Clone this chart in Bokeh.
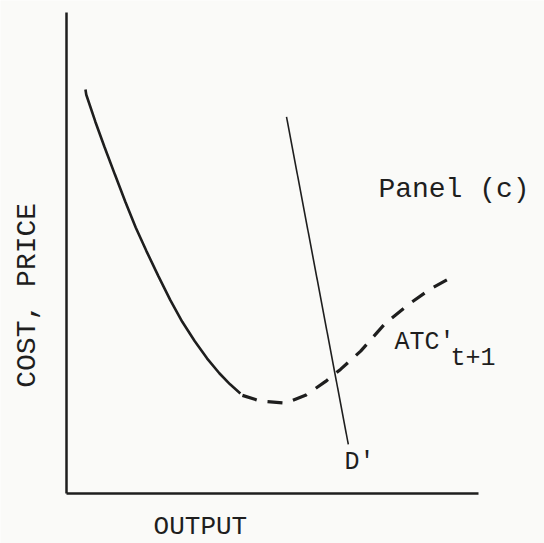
from bokeh.plotting import figure
from bokeh.models import Range1d, Label, FixedTicker
from bokeh.embed import file_html
from bokeh.resources import INLINE
import math

# --- data (economic units; both axes span 0..10) ---
atc_solid_x = [0.46, 0.48, 0.70, 0.92, 1.18, 1.43, 1.68, 1.94, 2.23, 2.52, 2.81, 3.11, 3.41, 3.71, 3.97, 4.22]
atc_solid_y = [8.40, 8.29, 7.73, 7.21, 6.62, 6.06, 5.53, 5.04, 4.52, 4.02, 3.57, 3.17, 2.81, 2.50, 2.27, 2.08]

atc_dash_x = [4.27, 4.71, 5.32, 5.80, 6.29, 6.65, 7.14, 7.74, 8.35, 8.83, 9.27]
atc_dash_y = [2.04, 1.92, 1.88, 2.04, 2.33, 2.58, 2.96, 3.54, 3.96, 4.25, 4.46]

demand_x = [5.34, 6.84]
demand_y = [7.83, 1.02]

panel_title = "Panel (c)"
y_label = "COST, PRICE"
x_label = "OUTPUT"

INK = "#1e1e1e"
PAPER = "#fafaf8"
FONT = "Liberation Mono"

p = figure(width=544, height=543, output_backend="svg", toolbar_location=None,
           x_range=Range1d(-1.602, 11.602), y_range=Range1d(-1.04, 10.25),
           min_border=0,
           background_fill_color=PAPER, border_fill_color=PAPER, outline_line_color=None)
p.grid.visible = False
for ax in (p.xaxis[0], p.yaxis[0]):
    ax.ticker = FixedTicker(ticks=[])
    ax.major_tick_line_color = None
    ax.minor_tick_line_color = None
    ax.major_label_text_font_size = "0px"
    ax.axis_line_color = INK
    ax.axis_line_width = 2.5
    ax.fixed_location = 0
    ax.bounds = (0, 10)

p.line(atc_solid_x, atc_solid_y, line_color=INK, line_width=2.6)
p.line(atc_dash_x, atc_dash_y, line_color=INK, line_width=3.2, line_dash="15 11")
p.line(demand_x, demand_y, line_color=INK, line_width=1.6)

def lab(x, y, t, size, align="left", angle=0.0):
    p.add_layout(Label(x=x, y=y, text=t, text_font=FONT, text_font_size=size,
                       text_color=INK, text_align=align, text_baseline="middle",
                       angle=angle))

lab(7.57, 6.32, panel_title, "28px")
lab(6.75, 0.645, "D'", "25px")
lab(7.96, 3.14, "ATC'", "25px")
lab(9.32, 2.81, "t+1", "25px")
lab(-0.95, 4.12, y_label, "28px", align="center", angle=math.pi / 2)
lab(3.25, -0.70, x_label, "26px", align="center")

open("out.html", "w").write(file_html(p, INLINE))
